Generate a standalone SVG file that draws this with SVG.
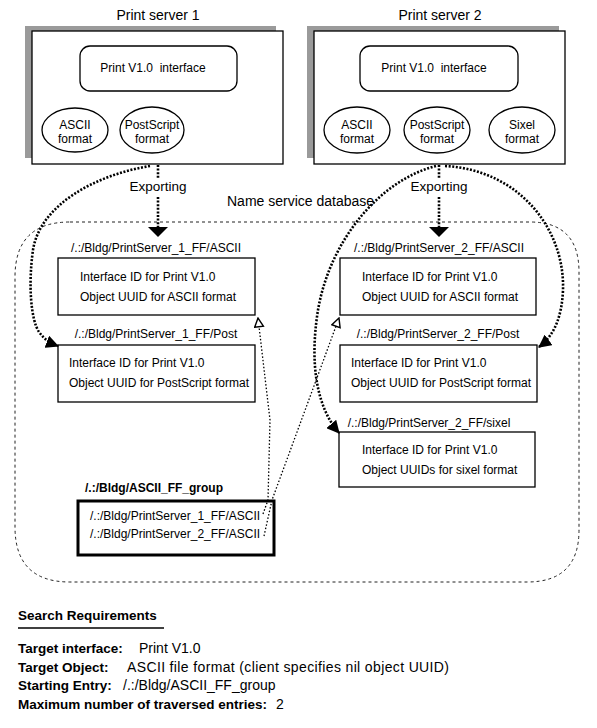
<svg xmlns="http://www.w3.org/2000/svg" width="597" height="728" viewBox="0 0 597 728">
<defs>
<style>
text{font-family:"Liberation Sans",Arial,Helvetica,sans-serif;fill:#000}
.t14{font-size:14px}
.t13{font-size:13.5px}
.t12{font-size:12px}
.b{font-weight:bold}
.mid{text-anchor:middle}
.box{fill:#fff;stroke:#000;stroke-width:1.3}
.shadow{fill:#9a9a9a}
.dots{fill:none;stroke:#000;stroke-width:2.6;stroke-dasharray:2 1.6}
.thin{fill:none;stroke:#000;stroke-width:1.3;stroke-dasharray:1.5 2}
.region{fill:none;stroke:#222;stroke-width:1;stroke-dasharray:3 3}
</style>
<marker id="fa" viewBox="0 0 12 12" refX="11" refY="6" markerWidth="13" markerHeight="13" markerUnits="userSpaceOnUse" orient="auto">
<path d="M0,0 L12,6 L0,12 z" fill="#000"/>
</marker>
<marker id="ha" viewBox="0 0 10 10" refX="9" refY="5" markerWidth="11" markerHeight="11" markerUnits="userSpaceOnUse" orient="auto">
<path d="M1,1 L9,5 L1,9 z" fill="#fff" stroke="#000" stroke-width="1.3"/>
</marker>
</defs>

<path class="region" d="M70 222 H530 Q579 222 579 272 V530 Q579 582 527 582 H70 Q15 582 15 527 V277 Q15 222 70 222 Z"/>
<text class="t14" x="227" y="206">Name service database</text>

<g id="server1">
<text class="t14 mid" x="158" y="20">Print server 1</text>
<rect class="shadow" x="25" y="26" width="251" height="132"/>
<rect class="box" x="32" y="31" width="251" height="133" stroke-width="1.6"/>
<rect class="box" x="80" y="46" width="157" height="45" rx="10"/>
<text class="t12 mid" x="153" y="72" style="white-space:pre">Print V1.0  interface</text>
<ellipse class="box" cx="75" cy="130" rx="33" ry="22"/>
<text class="t12 mid" x="75" y="129">ASCII</text>
<text class="t12 mid" x="75" y="143">format</text>
<ellipse class="box" cx="152" cy="130" rx="32" ry="23"/>
<text class="t12 mid" x="152" y="129">PostScript</text>
<text class="t12 mid" x="152" y="143">format</text>
</g>

<g id="server2">
<text class="t14 mid" x="440" y="20">Print server 2</text>
<rect class="shadow" x="307" y="26" width="252" height="132"/>
<rect class="box" x="314" y="31" width="251" height="133" stroke-width="1.6"/>
<rect class="box" x="360" y="46" width="158" height="45" rx="10"/>
<text class="t12 mid" x="434" y="72" style="white-space:pre">Print V1.0  interface</text>
<ellipse class="box" cx="357" cy="130" rx="33" ry="23"/>
<text class="t12 mid" x="357" y="129">ASCII</text>
<text class="t12 mid" x="357" y="143">format</text>
<ellipse class="box" cx="437" cy="130" rx="33" ry="23"/>
<text class="t12 mid" x="437" y="129">PostScript</text>
<text class="t12 mid" x="437" y="143">format</text>
<ellipse class="box" cx="522" cy="130" rx="33" ry="23"/>
<text class="t12 mid" x="522" y="129">Sixel</text>
<text class="t12 mid" x="522" y="143">format</text>
</g>

<g id="ps1-ascii">
<text class="t12 mid" x="156" y="252">/.:/Bldg/PrintServer_1_FF/ASCII</text>
<rect class="box" x="58" y="258" width="197" height="57"/>
<text class="t12" x="80" y="281">Interface ID for Print V1.0</text>
<text class="t12" x="80" y="301">Object UUID for ASCII format</text>
</g>

<g id="ps1-post">
<text class="t12 mid" x="156" y="338">/.:/Bldg/PrintServer_1_FF/Post</text>
<rect class="box" x="58" y="345" width="197" height="57"/>
<text class="t12" x="69" y="367">Interface ID for Print V1.0</text>
<text class="t12" x="69" y="387">Object UUID for PostScript format</text>
</g>

<g id="ps2-ascii">
<text class="t12 mid" x="439" y="252">/.:/Bldg/PrintServer_2_FF/ASCII</text>
<rect class="box" x="340" y="258" width="196" height="57"/>
<text class="t12" x="362" y="281">Interface ID for Print V1.0</text>
<text class="t12" x="362" y="301">Object UUID for ASCII format</text>
</g>

<g id="ps2-post">
<text class="t12 mid" x="438" y="338">/.:/Bldg/PrintServer_2_FF/Post</text>
<rect class="box" x="340" y="345" width="197" height="57"/>
<text class="t12" x="351" y="367">Interface ID for Print V1.0</text>
<text class="t12" x="351" y="387">Object UUID for PostScript format</text>
</g>

<g id="ps2-sixel">
<text class="t12 mid" x="429" y="427">/.:/Bldg/PrintServer_2_FF/sixel</text>
<rect class="box" x="339" y="432" width="196" height="55"/>
<text class="t12" x="362" y="454">Interface ID for Print V1.0</text>
<text class="t12" x="362" y="474">Object UUIDs for sixel format</text>
</g>

<g id="ascii-group">
<text class="t12 b" x="85" y="492">/.:/Bldg/ASCII_FF_group</text>
<rect x="78" y="501" width="196" height="54" fill="#fff" stroke="#000" stroke-width="3"/>
<text class="t12" x="90" y="520">/.:/Bldg/PrintServer_1_FF/ASCII</text>
<text class="t12" x="90" y="538">/.:/Bldg/PrintServer_2_FF/ASCII</text>
</g>

<g id="connectors">
<text class="t13 mid" x="158" y="191">Exporting</text>
<text class="t13 mid" x="439" y="191">Exporting</text>
<path class="dots" d="M158 165 V179 M158 197 V228"/>
<polygon points="148,227 168,227 158,237" fill="#000"/>
<path class="dots" d="M439 165 V179 M439 197 V228"/>
<polygon points="429,227 449,227 439,237" fill="#000"/>
<path class="dots" marker-end="url(#fa)" d="M150 166 C95 175 40 205 33 250 C28 285 31 320 39 332 C45 340 50 343 58 346"/>
<path class="dots" marker-end="url(#fa)" d="M436 166 C380 180 330 240 318 310 C310 360 315 405 339 433"/>
<path class="dots" marker-end="url(#fa)" d="M445 166 C520 170 565 230 563 290 C562 315 555 335 539 347"/>
<path class="thin" marker-end="url(#ha)" d="M263 514 L268 500 L270 420 L258 318"/>
<path class="thin" marker-end="url(#ha)" d="M264 536 L272 500 L339 318"/>
</g>

<g id="requirements">
<text class="t13 b" x="18" y="620">Search Requirements</text>
<line x1="18" y1="628" x2="164" y2="628" stroke="#000" stroke-width="1.5"/>
<text class="t13 b" x="18" y="653">Target interface:</text>
<text class="t14" x="139" y="653">Print V1.0</text>
<text class="t13 b" x="18" y="672">Target Object:</text>
<text class="t14" x="127" y="672" textLength="322" lengthAdjust="spacing">ASCII file format (client specifies nil object UUID)</text>
<text class="t13 b" x="18" y="690">Starting Entry:</text>
<text class="t14" x="123" y="690">/.:/Bldg/ASCII_FF_group</text>
<text class="t13 b" x="18" y="709">Maximum number of traversed entries:</text>
<text class="t14" x="276" y="709">2</text>
</g>
</svg>
